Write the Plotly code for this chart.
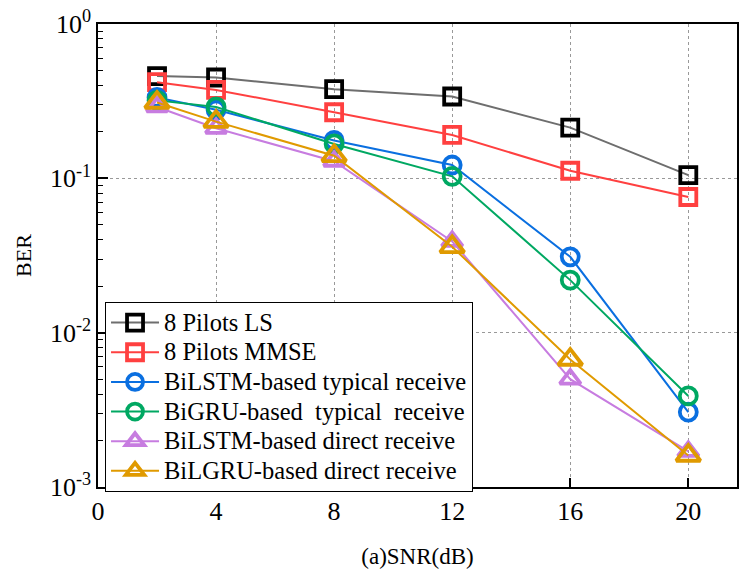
import plotly.graph_objects as go

snr = [2, 4, 8, 12, 16, 20]
ber_ls = [0.46, 0.45, 0.378, 0.339, 0.213, 0.105]
ber_mmse = [0.42, 0.374, 0.268, 0.191, 0.112, 0.0757]
ber_bilstm_typ = [0.334, 0.278, 0.176, 0.122, 0.031, 0.00306]
ber_bigru_typ = [0.32, 0.29, 0.167, 0.103, 0.0219, 0.00389]
ber_bilstm_dir = [0.29, 0.211, 0.129, 0.039, 0.005, 0.0017]
ber_bigru_dir = [0.31, 0.233, 0.140, 0.036, 0.0067, 0.0016]

names = ["8 Pilots LS", "8 Pilots MMSE", "BiLSTM-based typical receive",
         "BiGRU-based\u00a0 typical\u00a0 receive", "BiLSTM-based direct receive",
         "BiLGRU-based direct receive"]
series = [ber_ls, ber_mmse, ber_bilstm_typ, ber_bigru_typ, ber_bilstm_dir, ber_bigru_dir]
line_colors = ["#6e6e6e", "#ff4040", "#0a6fe0", "#00a862", "#c77ce0", "#e09a00"]
marker_colors = ["#000000", "#ff4040", "#0a6fe0", "#00a862", "#c77ce0", "#e09a00"]
symbols = ["square-open", "square-open", "circle-open", "circle-open",
           "triangle-up-open", "triangle-up-open"]
sizes = [16, 16, 17, 17, 18, 21]

xticks = [0, 4, 8, 12, 16, 20]
yticks = [1e-3, 1e-2, 1e-1, 1]
yticktext = ["10<sup>-3</sup>", "10<sup>-2</sup>", "10<sup>-1</sup>", "10<sup>0</sup>"]

FONT = "Liberation Serif, Times New Roman, serif"

fig = go.Figure()
for n, y, lc, mc, s, sz in zip(names, series, line_colors, marker_colors, symbols, sizes):
    fig.add_trace(go.Scatter(
        x=snr, y=y, name="<span style='font-size:24.5px'>" + n + "</span>",
        mode="lines+markers",
        line=dict(color=lc, width=2),
        marker=dict(symbol=s, size=sz, color=mc, line=dict(width=3.8, color=mc)),
    ))

minor_vals = [m * 10 ** e for e in range(-3, 0) for m in range(2, 10)]

fig.update_layout(
    width=739, height=569,
    margin=dict(l=98, r=0, t=24, b=82),
    paper_bgcolor="white", plot_bgcolor="white",
    font=dict(family=FONT, color="black", size=24),
    showlegend=True,
    legend=dict(
        x=0.011, y=0.40, xanchor="left", yanchor="top",
        bgcolor="white", bordercolor="black", borderwidth=1,
        font=dict(family=FONT, size=20.5, color="black"),
        tracegroupgap=0, itemwidth=48,
    ),
    xaxis=dict(
        range=[0, 21.65], tickvals=xticks, ticktext=[str(v) for v in xticks],
        ticks="inside", ticklen=9, tickwidth=1.5, tickcolor="black",
        showline=True, linecolor="black", linewidth=1.5, mirror=True,
        showgrid=True, gridcolor="#999", griddash="dot", gridwidth=1,
        zeroline=False,
        tickfont=dict(family=FONT, size=26, color="black"),
        title=dict(text="(a)SNR(dB)", font=dict(family=FONT, size=23, color="black"), standoff=23),
    ),
    yaxis=dict(
        type="log", range=[-3, 0], tickvals=yticks, ticktext=yticktext,
        ticks="inside", ticklen=10, tickwidth=1.5, tickcolor="black",
        minor=dict(tickvals=minor_vals, ticks="inside", ticklen=5, tickwidth=1.2,
                   tickcolor="black", showgrid=False),
        showline=True, linecolor="black", linewidth=1.5, mirror=True,
        showgrid=True, gridcolor="#999", griddash="dot", gridwidth=1,
        zeroline=False,
        tickfont=dict(family=FONT, size=26, color="black"),
        title=dict(text="BER", font=dict(family=FONT, size=22, color="black"), standoff=12),
    ),
)

fig.write_html("out.html", post_script="document.body.style.margin='0';",
               config={"displayModeBar": False})
